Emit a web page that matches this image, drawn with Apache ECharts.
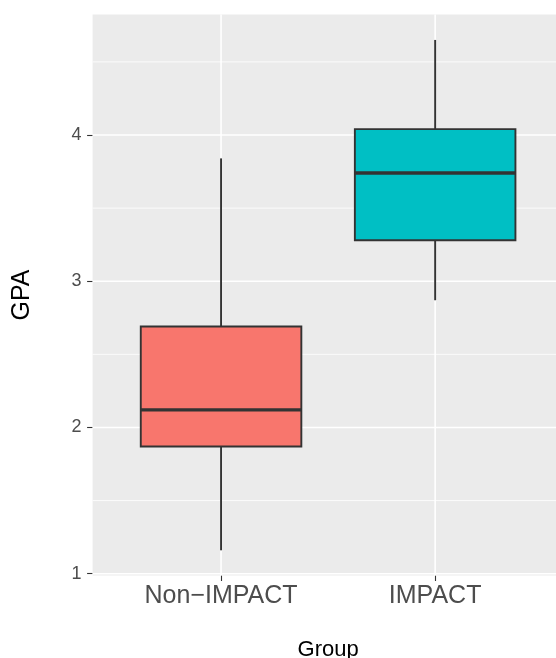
<!DOCTYPE html>
<html><head><meta charset="utf-8">
<script src="https://cdn.jsdelivr.net/npm/echarts@6/dist/echarts.min.js"></script>
<style>html,body{margin:0;padding:0;background:#fff}#c{width:556px;height:658px}</style>
</head><body><div id="c"></div>
<script>
const categories = ['Non\u2212IMPACT', 'IMPACT'];
const lowerWhisker = [1.16, 2.87];
const q1 = [1.87, 3.28];
const median = [2.12, 3.74];
const q3 = [2.69, 4.04];
const upperWhisker = [3.84, 4.65];
const fillColors = ['#F8766D', '#00BFC4'];
const yTicks = [1, 2, 3, 4];
const yMinor = [1.5, 2.5, 3.5, 4.5];
const xTicks = [1, 2];

const Y_MIN = 0.9876, Y_MAX = 4.824;
const X_MIN = 0.4, X_MAX = 2.6;

const chart = echarts.init(document.getElementById('c'), null, {renderer: 'canvas'});

function hLineSeries(values, width) {
  return {
    type: 'custom', z: 1, silent: true,
    data: values.map(v => [v]),
    renderItem: function (params, api) {
      const cs = params.coordSys;
      const y = api.coord([X_MIN, api.value(0)])[1];
      return {type: 'line', shape: {x1: cs.x, y1: y, x2: cs.x + cs.width, y2: y},
        style: {stroke: '#FFFFFF', lineWidth: width}};
    }
  };
}
function vLineSeries(values, width) {
  return {
    type: 'custom', z: 1, silent: true,
    data: values.map(v => [v]),
    renderItem: function (params, api) {
      const cs = params.coordSys;
      const x = api.coord([api.value(0), Y_MIN])[0];
      return {type: 'line', shape: {x1: x, y1: cs.y, x2: x, y2: cs.y + cs.height},
        style: {stroke: '#FFFFFF', lineWidth: width}};
    }
  };
}

const boxData = categories.map((c, i) => [i + 1, lowerWhisker[i], q1[i], median[i], q3[i], upperWhisker[i]]);

const option = {
  animation: false,
  backgroundColor: '#FFFFFF',
  grid: {left: 92.6, top: 14.5, width: 471, height: 561, show: true,
    backgroundColor: '#EBEBEB', borderWidth: 0, containLabel: false, outerBoundsMode: 'none'},
  xAxis: {
    type: 'value', min: X_MIN, max: X_MAX,
    axisLine: {show: false},
    splitLine: {show: false},
    axisTick: {show: true, customValues: xTicks, length: 5.5, lineStyle: {color: '#333333', width: 1.1}},
    axisLabel: {show: true, customValues: xTicks, margin: 8, fontSize: 25, color: '#4D4D4D',
      fontFamily: 'Liberation Sans, Arial, sans-serif',
      formatter: v => categories[Math.round(v) - 1] || ''},
    name: 'Group', nameLocation: 'middle', nameGap: 63,
    nameTextStyle: {fontSize: 22, color: '#000000', fontFamily: 'Liberation Sans, Arial, sans-serif'}
  },
  yAxis: {
    type: 'value', min: Y_MIN, max: Y_MAX,
    axisLine: {show: false},
    splitLine: {show: false},
    axisTick: {show: true, customValues: yTicks, length: 5.5, lineStyle: {color: '#333333', width: 1.1}},
    axisLabel: {show: true, customValues: yTicks, margin: 11, fontSize: 18, color: '#4D4D4D',
      fontFamily: 'Liberation Sans, Arial, sans-serif'},
    name: 'GPA', nameLocation: 'middle', nameGap: 58,
    nameTextStyle: {fontSize: 25, color: '#000000', fontFamily: 'Liberation Sans, Arial, sans-serif'}
  },
  series: [
    hLineSeries(yMinor, 0.8),
    hLineSeries(yTicks, 1.6),
    vLineSeries(xTicks, 1.6),
    {
      type: 'custom', z: 3, silent: true,
      data: boxData,
      renderItem: function (params, api) {
        const i = params.dataIndex;
        const x = api.value(0);
        const halfW = api.size([0.75, 0])[0] / 2;
        const cx = api.coord([x, Y_MIN])[0];
        const yLow = api.coord([x, api.value(1)])[1];
        const yQ1 = api.coord([x, api.value(2)])[1];
        const yMed = api.coord([x, api.value(3)])[1];
        const yQ3 = api.coord([x, api.value(4)])[1];
        const yHigh = api.coord([x, api.value(5)])[1];
        const stroke = '#333333';
        return {
          type: 'group',
          children: [
            {type: 'line', shape: {x1: cx, y1: yQ1, x2: cx, y2: yLow}, style: {stroke: stroke, lineWidth: 1.9}},
            {type: 'line', shape: {x1: cx, y1: yQ3, x2: cx, y2: yHigh}, style: {stroke: stroke, lineWidth: 1.9}},
            {type: 'rect', shape: {x: cx - halfW, y: yQ3, width: 2 * halfW, height: yQ1 - yQ3},
              style: {fill: fillColors[i], stroke: stroke, lineWidth: 1.9}},
            {type: 'line', shape: {x1: cx - halfW, y1: yMed, x2: cx + halfW, y2: yMed},
              style: {stroke: stroke, lineWidth: 3.3}}
          ]
        };
      }
    }
  ]
};
chart.setOption(option);
</script>
</body></html>
